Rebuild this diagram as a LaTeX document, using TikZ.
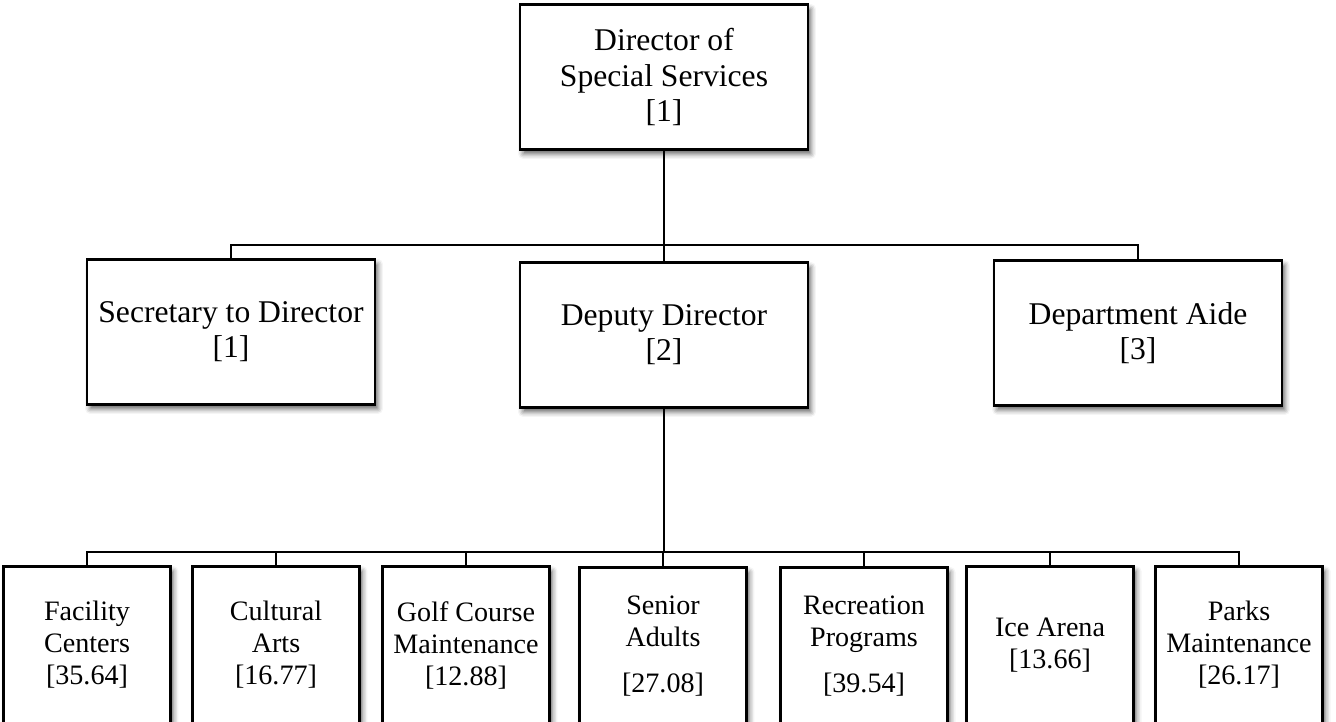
\documentclass[tikz,border=0pt]{standalone}
\usepackage{fontspec}
\setmainfont{Liberation Serif}
\usepackage{tikz}
\usetikzlibrary{shadows.blur}
\tikzset{
  box/.style={draw, line width=1.25pt, fill=white, align=center, inner sep=0pt,
    blur shadow={shadow xshift=0.06cm, shadow yshift=-0.09cm, shadow blur radius=0.1cm, shadow opacity=60}},
  post/.style={box, minimum width=5.76cm, minimum height=2.9cm, font=\fontsize{18}{20}\selectfont},
  team/.style={box, minimum width=3.34cm, minimum height=3.14cm, font=\fontsize{16}{18.2}\selectfont},
  link/.style={line width=1.25pt}
}
\newcommand{\postbox}[4]{\node[post] (#1) at ( #2 , #3 ) {#4};}
\newcommand{\teambox}[4]{\node[team] (#1) at ( #2 , #3 ) {#4};}

\begin{document}
\begin{tikzpicture}[x=0.02cm, y=-0.02cm]
        \useasboundingbox (0,0) rectangle (1336,721);

        % director
        \postbox{dir}{664}{77}{Director of\\Special Services\\{}[1]}

        % row1
        \postbox{sec}{231}{332}{Secretary to Director\\{}[1]}
        \postbox{dep}{664}{335}{Deputy Director\\{}[2]}
        \postbox{aide}{1138}{333}{Department Aide\\{}[3]}

        % row2
        \teambox{fac}{87}{645}{Facility\\Centers\\{}[35.64]}
        \teambox{arts}{276}{645}{Cultural\\Arts\\{}[16.77]}
        \teambox{golf}{466}{645}{Golf Course\\Maintenance\\{}[12.88]}
        \teambox{senior}{663}{646}{Senior\\Adults\\[8pt][27.08]}
        \teambox{rec}{864}{646}{Recreation\\Programs\\[8pt][39.54]}
        \teambox{ice}{1050}{645}{Ice Arena\\{}[13.66]}
        \teambox{parks}{1239}{645}{Parks\\Maintenance\\{}[26.17]}

        % connectors
        \coordinate (bus) at (664,245);
        \coordinate (pool) at (664,552);
        \draw[link] (dir.south) -- (bus);
        \foreach \n in {sec,dep,aide}
            \draw[link] (bus) -| (\n.north);
        \draw[link] (dep.south) -- (pool);
        \foreach \n in {fac,arts,golf,senior,rec,ice,parks}
            \draw[link] (pool) -| (\n.north);

    \end{tikzpicture}
\end{document}
